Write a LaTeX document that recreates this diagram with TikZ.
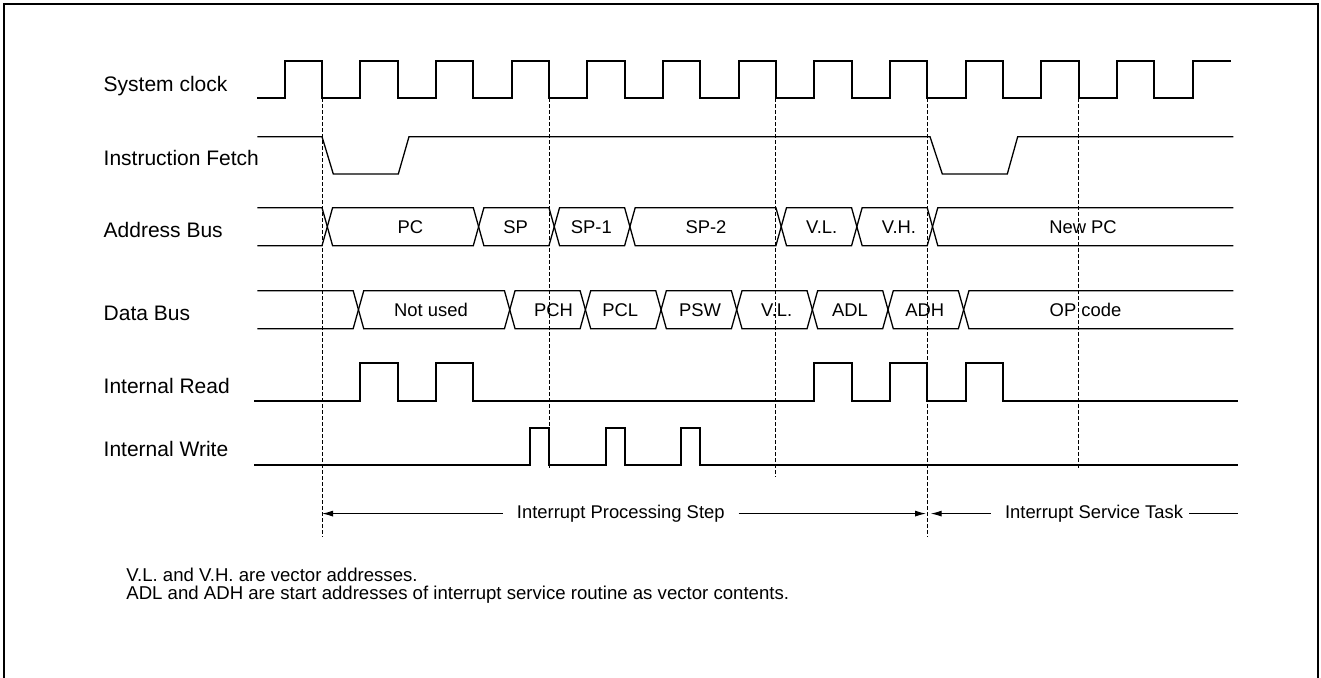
\documentclass[tikz,border=0pt]{standalone}
\usepackage{fontspec}
\setmainfont{Liberation Sans}
\usetikzlibrary{arrows.meta,calc}

\begin{document}
\begin{tikzpicture}[x=0.5pt, y=-0.5pt,
    clk/.style={line width=1pt},
    sig/.style={line width=0.65pt},
    guide/.style={line width=0.45pt, dash pattern=on 1.8pt off 1.2pt},
    lbl/.style={anchor=base west, inner sep=0pt, font=\fontsize{10.5}{12}\selectfont},
    val/.style={anchor=base, inner sep=0pt, font=\fontsize{9.2}{11}\selectfont},
    phaselbl/.style={val, inner xsep=6.85pt, text height=0.72em, text depth=0.22em},
    note/.style={anchor=base west, inner sep=0pt, font=\fontsize{9.3}{10}\selectfont},
    arr/.style={line width=0.5pt, -{Latex[length=5.5pt,width=3pt]}}]

    \useasboundingbox (0,0) rectangle (1321,678);

    % 周期とエッジ位置
    \pgfmathsetmacro{\T}{75.65}
    \pgfmathsetmacro{\ra}{284.8}
    \pgfmathsetmacro{\fa}{322}
    \pgfmathsetmacro{\xs}{257.3}
    \pgfmathsetmacro{\xe}{1233.3}
    \pgfmathsetmacro{\w}{5.3}

    % 枠
    \draw[line width=0.65pt] (4,680) -- (4,4) -- (1318,4) -- (1318,680);

    % 信号名
    \node[lbl] (sysclk) at (103.3,91.7) {System clock};
    \node[lbl] (fetch) at (103.3,166) {Instruction Fetch};
    \node[lbl] (abus) at (103.3,237.3) {Address Bus};
    \node[lbl] (dbus) at (103.3,320.7) {Data Bus};
    \node[lbl] (rd) at (103.3,393.3) {Internal Read};
    \node[lbl] (wr) at (103.3,456.7) {Internal Write};

    % System clock
    \draw[clk] (\xs,98.3) foreach \k in {0,...,11} {
        -- ({\ra+\T*\k},98.3) -- ({\ra+\T*\k},60.7) -- ({\fa+\T*\k},60.7) -- ({\fa+\T*\k},98.3)
    } -- ({\ra+\T*12},98.3) -- ({\ra+\T*12},60.7) -- (1230.7,60.7);

    % Instruction Fetch
    \draw[sig] (\xs,136.7) -- (\fa,136.7) -- (333.3,174) -- (398.3,174) -- (409,136.7)
        -- (930,136.7) -- (942.3,174) -- (1007.3,174) -- (1017.7,136.7) -- (\xe,136.7);

    % Address Bus
    \draw[sig] (\xs,207.7) -- (\fa,207.7) -- ({\fa+\w},226.7) -- (\fa,245.7) -- (\xs,245.7);
    \foreach \ka/\kb/\txt/\xt [count=\i] in {0/2/PC/410.5, 2/3/SP/515.7, 3/4/SP-1/591.3,
        4/6/SP-2/706, 6/7/V.L./821.7, 7/8/V.H./899} {
        \pgfmathsetmacro{\a}{\fa+\T*\ka}
        \pgfmathsetmacro{\b}{\fa+\T*\kb}
        \draw[sig] ({\a+\w},226.7) -- ({\a+2*\w},207.7) -- (\b,207.7) -- ({\b+\w},226.7)
            -- (\b,245.7) -- ({\a+2*\w},245.7) -- cycle;
        \node[val] (ab\i) at (\xt,234) {\txt};
    }
    \pgfmathsetmacro{\a}{\fa+\T*8}
    \draw[sig] (\xe,207.7) -- ({\a+2*\w},207.7) -- ({\a+\w},226.7) -- ({\a+2*\w},245.7) -- (\xe,245.7);
    \node[val] (ab7) at (1083,234) {New PC};

    % Data Bus
    \pgfmathsetmacro{\da}{\ra-7.3}
    \draw[sig] (\xs,290.7) -- ({\da+\T},290.7) -- ({\da+\T+\w},309.7) -- ({\da+\T},328.7) -- (\xs,328.7);
    \foreach \ka/\kb/\txt/\xt [count=\i] in {1/3/Not used/431, 3/4/PCH/553.5, 4/5/PCL/620.3,
        5/6/PSW/700, 6/7/V.L./776.7, 7/8/ADL/850, 8/9/ADH/924.8} {
        \pgfmathsetmacro{\a}{\da+\T*\ka}
        \pgfmathsetmacro{\b}{\da+\T*\kb}
        \draw[sig] ({\a+\w},309.7) -- ({\a+2*\w},290.7) -- (\b,290.7) -- ({\b+\w},309.7)
            -- (\b,328.7) -- ({\a+2*\w},328.7) -- cycle;
        \node[val] (db\i) at (\xt,316.7) {\txt};
    }
    \pgfmathsetmacro{\a}{\da+\T*9}
    \draw[sig] (\xe,290.7) -- ({\a+2*\w},290.7) -- ({\a+\w},309.7) -- ({\a+2*\w},328.7) -- (\xe,328.7);
    \node[val] (db8) at (1085.5,316.7) {OP code};

    % Internal Read
    \draw[clk] (254.3,401) foreach \k in {1,2,7,8,9} {
        -- ({\ra+\T*\k},401) -- ({\ra+\T*\k},362.7) -- ({\fa+\T*\k},362.7) -- ({\fa+\T*\k},401)
    } -- (1237.7,401);

    % Internal Write
    \draw[clk] (254.3,465.3) foreach \k in {3,4,5} {
        -- ({\fa+\T*\k-19},465.3) -- ({\fa+\T*\k-19},427.7) -- ({\fa+\T*\k},427.7) -- ({\fa+\T*\k},465.3)
    } -- (1237.7,465.3);

    % 破線
    \foreach \k/\yb [count=\i] in {0/537.3, 3/469, 6/476.7, 8/536.7, 10/469.3} {
        \coordinate (g\i) at ({\fa+\T*\k},98.3);
        \draw[guide] (g\i) -- ++(0,{\yb-98.3});
    }

    % 区間の矢印
    \coordinate (tend) at (1237.7,513.3);
    \node[phaselbl] (ips) at (620.8,518.6) {Interrupt Processing Step};
    \draw[arr] (ips.west) -- (ips.west -| g1);
    \draw[arr, shorten >=0.6pt] (ips.east) -- (ips.east -| g4);
    \node[phaselbl] (ist) at (1094,518.6) {Interrupt Service Task};
    \draw[arr, shorten >=1.75pt] (ist.west) -- (ist.west -| g4);
    \draw[line width=0.5pt, shorten <=-3.8pt] (ist.east) -- (ist.east -| tend);

    % 注記
    \node[note] (note1) at (126,581) {V.L. and V.H. are vector addresses.};
    \node[note] (note2) at (126,599.3) {ADL and ADH are start addresses of interrupt service routine as vector contents.};

\end{tikzpicture}
\end{document}
